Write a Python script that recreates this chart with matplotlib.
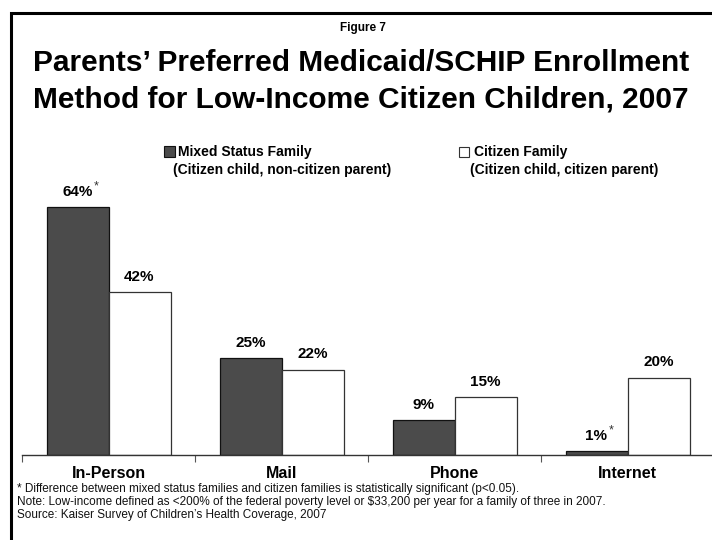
import matplotlib
matplotlib.use("Agg")
import matplotlib.pyplot as plt
from matplotlib.lines import Line2D
from matplotlib.patches import Rectangle
import numpy as np

categories = ["In-Person", "Mail", "Phone", "Internet"]
mixed = [64, 25, 9, 1]
citizen = [42, 22, 15, 20]
mixed_sig = [True, False, False, True]
citizen_sig = [False, False, False, False]
series_names = ["Mixed Status Family\n(Citizen child, non-citizen parent)",
                "Citizen Family\n(Citizen child, citizen parent)"]

W, H = 712, 540
plt.rcParams['font.family'] = ['Liberation Sans', 'DejaVu Sans']
fig = plt.figure(figsize=(W / 100, H / 100), dpi=100)

def fx(px):
    return px / W

def fy(py):
    return 1 - py / H

# frame
fig.add_artist(Line2D([fx(11), fx(11), fx(720)], [fy(560), fy(13), fy(13)],
                      transform=fig.transFigure, color='black', lw=2.2,
                      solid_joinstyle='miter'))

# axes: baseline at y=455, 3.875 px per %
ymax = 70
ax_h = ymax * 3.875
ax = fig.add_axes([fx(22), fy(455), 692 / W, ax_h / H])
ax.set_xlim(-0.5, 3.5)
ax.set_ylim(0, ymax)

x = np.arange(len(categories))
bw = 62 / 173
b1 = ax.bar(x - bw / 2, mixed, bw, color='#4b4b4b', edgecolor='#111111', lw=0.9)
b2 = ax.bar(x + bw / 2, citizen, bw, color='white', edgecolor='#333333', lw=0.9)

for spine in ['left', 'right', 'top']:
    ax.spines[spine].set_visible(False)
ax.spines['bottom'].set_color('#333333')
ax.spines['bottom'].set_linewidth(1.0)
ax.set_yticks([])
ax.set_xticks(np.arange(-0.5, 3.5, 1.0))
ax.set_xticklabels([])
ax.tick_params(axis='x', direction='out', length=5, width=0.8, color='#555555')

for xi, lab in zip(x, categories):
    ax.text(xi, -4.8, lab, ha='center', va='center', fontsize=11.5, fontweight='bold')

labels = []
def label(xc, val, sig):
    t = ax.annotate(f"{val}%", (xc, val), xytext=(0, 6), textcoords='offset points',
                    ha='center', va='bottom', fontsize=11, fontweight='bold')
    labels.append((t, sig))

for xi, v, s in zip(x, mixed, mixed_sig):
    label(xi - bw / 2, v, s)
for xi, v, s in zip(x, citizen, citizen_sig):
    label(xi + bw / 2, v, s)

# titles
fig.text(fx(363), fy(28), "Figure 7", ha='center', va='center', fontsize=8.5, fontweight='bold')
fig.text(fx(361), fy(63), "Parents\u2019 Preferred Medicaid/SCHIP Enrollment",
         ha='center', va='center', fontsize=21.5, fontweight='bold')
fig.text(fx(361), fy(100), "Method for Low-Income Citizen Children, 2007",
         ha='center', va='center', fontsize=21.5, fontweight='bold')

# legend
fig.add_artist(Rectangle((fx(164), fy(157)), 11 / W, 11 / H, transform=fig.transFigure,
                         facecolor='#4b4b4b', edgecolor='#111111', lw=0.8))
l1, l2 = series_names[0].split("\n")
fig.text(fx(178), fy(152), l1, ha='left', va='center', fontsize=10, fontweight='bold')
fig.text(fx(173), fy(170), l2, ha='left', va='center', fontsize=10, fontweight='bold')
fig.add_artist(Rectangle((fx(459), fy(157)), 10 / W, 10 / H, transform=fig.transFigure,
                         facecolor='white', edgecolor='#333333', lw=0.8))
c1, c2 = series_names[1].split("\n")
fig.text(fx(474), fy(152), c1, ha='left', va='center', fontsize=10, fontweight='bold')
fig.text(fx(470), fy(170), c2, ha='left', va='center', fontsize=10, fontweight='bold')

notes = ["* Difference between mixed status families and citizen families is statistically significant (p<0.05).",
         "Note: Low-income defined as <200% of the federal poverty level or $33,200 per year for a family of three in 2007.",
         "Source: Kaiser Survey of Children\u2019s Health Coverage, 2007"]
for i, n in enumerate(notes):
    fig.text(fx(17), fy(489 + 13 * i), n, ha='left', va='center', fontsize=8.5, color='#111111')

# significance asterisks placed right after the label text
fig.canvas.draw()
r = fig.canvas.get_renderer()
for t, sig in labels:
    if sig:
        bb = t.get_window_extent(r)
        fig.text(bb.x1 / W + 1 / W, bb.y1 / H - 2 / H, "*", ha='left', va='center',
                 fontsize=9, color='#333333')

fig.savefig("out.png", dpi=100)
